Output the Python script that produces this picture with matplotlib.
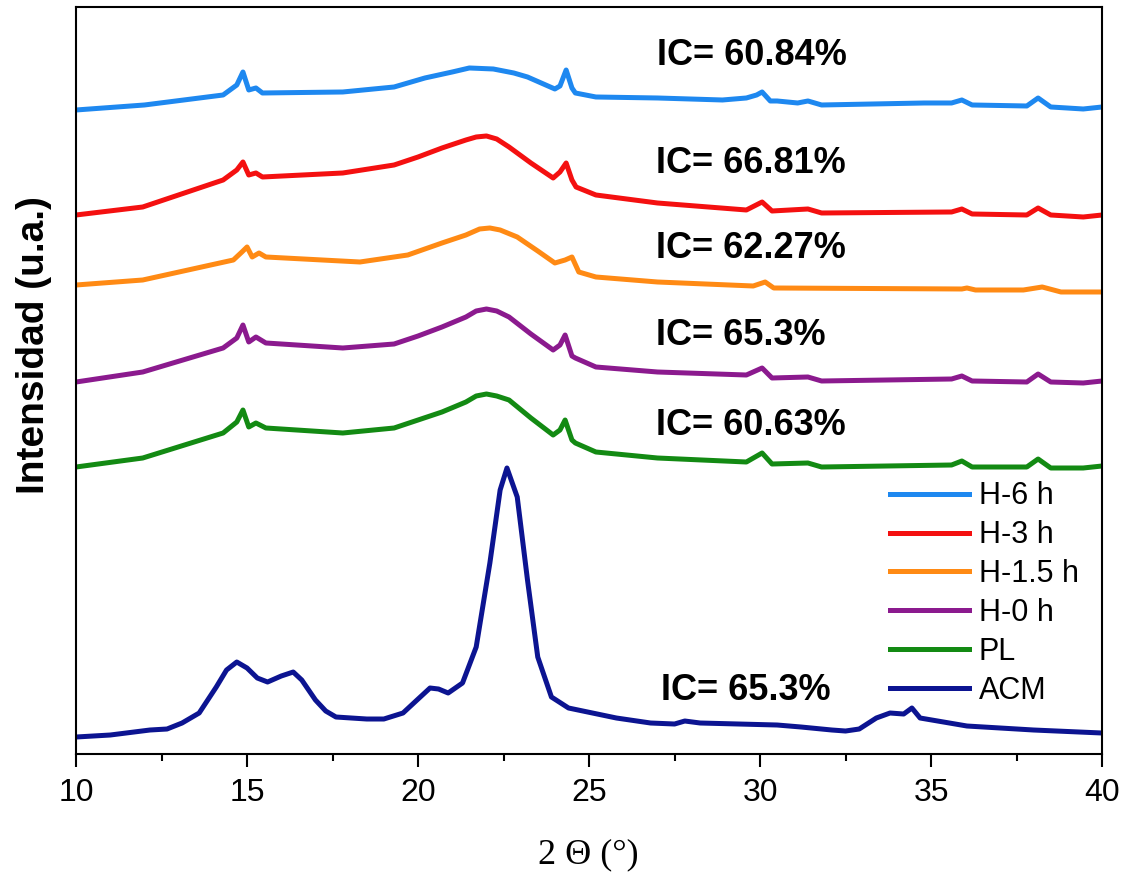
import numpy as np
import matplotlib.pyplot as plt

# -----------------------------
# Dados lidos do difratograma (intensidade em u.a., curvas já deslocadas)
# -----------------------------
tt_h6 = [10.0, 12.0, 14.3, 14.7, 14.88, 15.05, 15.26, 15.45, 17.8, 19.3, 20.2, 21.0, 21.5, 22.2,
         22.8, 23.2, 23.6, 24.0, 24.15, 24.33, 24.5, 24.6, 25.2, 27.0, 28.9, 29.6, 29.9, 30.06,
         30.3, 30.5, 31.1, 31.4, 31.8, 34.8, 35.6, 35.9, 36.2, 37.8, 38.13, 38.5, 39.45, 40.0]
int_h6 = [644, 649, 659, 669, 682, 664, 666, 661, 662, 667, 676, 682, 686, 685,
          681, 677, 671, 665, 668, 684, 666, 661, 657, 656, 654, 656, 659, 662,
          653, 653, 651, 653, 649, 651, 651, 654, 649, 648, 656, 647, 645, 647]

tt_h3 = [10.0, 11.95, 14.3, 14.7, 14.88, 15.05, 15.26, 15.45, 17.8, 19.3, 20.0, 20.7, 21.4, 21.7,
         22.0, 22.3, 22.66, 23.3, 23.95, 24.15, 24.33, 24.5, 24.62, 25.2, 27.0, 29.6, 30.06,
         30.35, 31.4, 31.8, 35.6, 35.9, 36.2, 37.8, 38.13, 38.5, 39.45, 40.0]
int_h3 = [539, 547, 574, 584, 592, 579, 581, 577, 581, 589, 597, 606, 614, 617,
          618, 615, 607, 591, 576, 582, 591, 574, 567, 559, 551, 544, 552,
          543, 545, 541, 542, 545, 540, 539, 546, 539, 537, 539]

tt_h15 = [10.0, 11.95, 14.6, 14.85, 15.0, 15.15, 15.35, 15.55, 18.3, 19.7, 20.7, 21.4, 21.8,
          22.1, 22.4, 22.9, 23.5, 24.0, 24.3, 24.5, 24.7, 25.2, 27.0, 29.8, 30.15, 30.4, 35.9,
          36.05, 36.3, 37.7, 38.25, 38.8, 40.0]
int_h15 = [469, 474, 494, 502, 507, 497, 501, 497, 492, 499, 511, 519, 525,
           526, 524, 517, 503, 491, 494, 497, 482, 477, 472, 468, 472, 466, 465,
           466, 464, 464, 467, 462, 462]

tt_h0 = [10.0, 11.95, 14.3, 14.7, 14.88, 15.05, 15.26, 15.55, 17.8, 19.3, 20.0, 20.7, 21.4, 21.7,
         22.0, 22.3, 22.66, 23.3, 23.95, 24.15, 24.3, 24.5, 24.6, 25.2, 27.0, 29.6, 30.06,
         30.35, 31.4, 31.8, 35.6, 35.9, 36.2, 37.8, 38.13, 38.5, 39.45, 40.0]
int_h0 = [372, 382, 406, 416, 429, 412, 417, 411, 406, 410, 418, 427, 437, 443,
          445, 443, 437, 420, 404, 409, 419, 398, 396, 387, 382, 379, 386,
          376, 377, 373, 375, 378, 373, 372, 380, 372, 371, 373]

tt_pl = [10.0, 11.95, 14.3, 14.7, 14.88, 15.05, 15.26, 15.55, 17.8, 19.3, 20.0, 20.7, 21.4, 21.7,
         22.0, 22.3, 22.66, 23.3, 23.95, 24.15, 24.3, 24.5, 24.6, 25.2, 27.0, 29.6, 30.06,
         30.35, 31.4, 31.8, 35.6, 35.9, 36.2, 37.8, 38.13, 38.5, 39.45, 40.0]
int_pl = [287, 296, 321, 332, 344, 327, 331, 326, 321, 326, 334, 342, 352, 358,
          360, 358, 354, 336, 319, 324, 334, 314, 311, 302, 296, 292, 301,
          290, 291, 287, 289, 293, 287, 287, 295, 286, 286, 288]

tt_acm = [10.0, 11.0, 12.16, 12.66, 13.1, 13.6, 14.1, 14.4, 14.7, 15.0, 15.3, 15.6, 16.0, 16.35,
          16.6, 17.0, 17.3, 17.6, 18.5, 19.0, 19.56, 19.97, 20.35, 20.6, 20.88, 21.3, 21.7, 22.1,
          22.4, 22.6, 22.9, 23.2, 23.5, 23.9, 24.4, 25.8, 26.8, 27.5, 27.8, 28.25, 30.5, 31.2,
          32.1, 32.5, 32.9, 33.4, 33.8, 34.2, 34.44, 34.68, 36.05, 38.0, 40.0]
int_acm = [17, 19, 24, 25, 31, 41, 67, 84, 92, 86, 76, 72, 78, 82,
           74, 54, 43, 37, 35, 35, 41, 54, 66, 65, 61, 71, 107, 191,
           264, 286, 257, 174, 97, 57, 46, 36, 31, 30, 33, 31, 29, 27,
           24, 23, 25, 36, 41, 40, 46, 36, 28, 24, 21]

nomes = ["H-6 h", "H-3 h", "H-1.5 h", "H-0 h", "PL", "ACM"]
cores = ["#1E88F0", "#F41010", "#FF8A14", "#8B1A8E", "#138A13", "#0C1491"]
ic_textos = ["IC= 60.84%", "IC= 66.81%", "IC= 62.27%", "IC= 65.3%", "IC= 60.63%", "IC= 65.3%"]
ic_pos_x = [27.0, 26.95, 26.95, 26.95, 26.95, 27.1]
ic_pos_y = [698, 590, 505, 418, 328, 64]

series = [(tt_h6, int_h6), (tt_h3, int_h3), (tt_h15, int_h15),
          (tt_h0, int_h0), (tt_pl, int_pl), (tt_acm, int_acm)]

# -----------------------------
# Plot
# -----------------------------
plt.rcParams['font.family'] = ['Liberation Sans', 'DejaVu Sans']

fig = plt.figure(figsize=(11.25, 8.73), dpi=100)
ax = fig.add_axes([0.0676, 0.1363, 0.9120, 0.8557])

for (x, y), nome, cor in zip(series, nomes, cores):
    ax.plot(x, y, color=cor, lw=3.6, label=nome, solid_joinstyle='round')

for txt, px, py in zip(ic_textos, ic_pos_x, ic_pos_y):
    ax.text(px, py, txt, fontsize=26, fontweight='bold', va='center', ha='left')

ax.set_xlim(10, 40)
ax.set_ylim(0, 747)
ax.set_xticks([10, 15, 20, 25, 30, 35, 40])
ax.set_xticks(np.arange(12.5, 40, 5), minor=True)
ax.set_yticks([])
ax.tick_params(axis='x', which='major', direction='out', length=9.5, width=1.5,
               labelsize=23, pad=8, top=False)
ax.tick_params(axis='x', which='minor', direction='out', length=5, width=1.5, top=False)
for s in ax.spines.values():
    s.set_linewidth(1.5)

leg = ax.legend(loc='upper left', bbox_to_anchor=(0.793, 0.365), frameon=False,
                fontsize=22, handlelength=2.58, handletextpad=0.33, labelspacing=0.29,
                borderaxespad=0, borderpad=0)
for h in leg.get_lines():
    h.set_linewidth(3.6)

fig.text(0.030, 1 - 345 / 873, "Intensidad (u.a.)", rotation=90, fontsize=28,
         fontweight='bold', ha='center', va='center')
fig.text(588 / 1125, 1 - 838 / 873, "2 Θ (°)", fontsize=26, ha='center', va='top',
         family=['Liberation Serif', 'DejaVu Serif'])

fig.savefig("out.png", dpi=100)
